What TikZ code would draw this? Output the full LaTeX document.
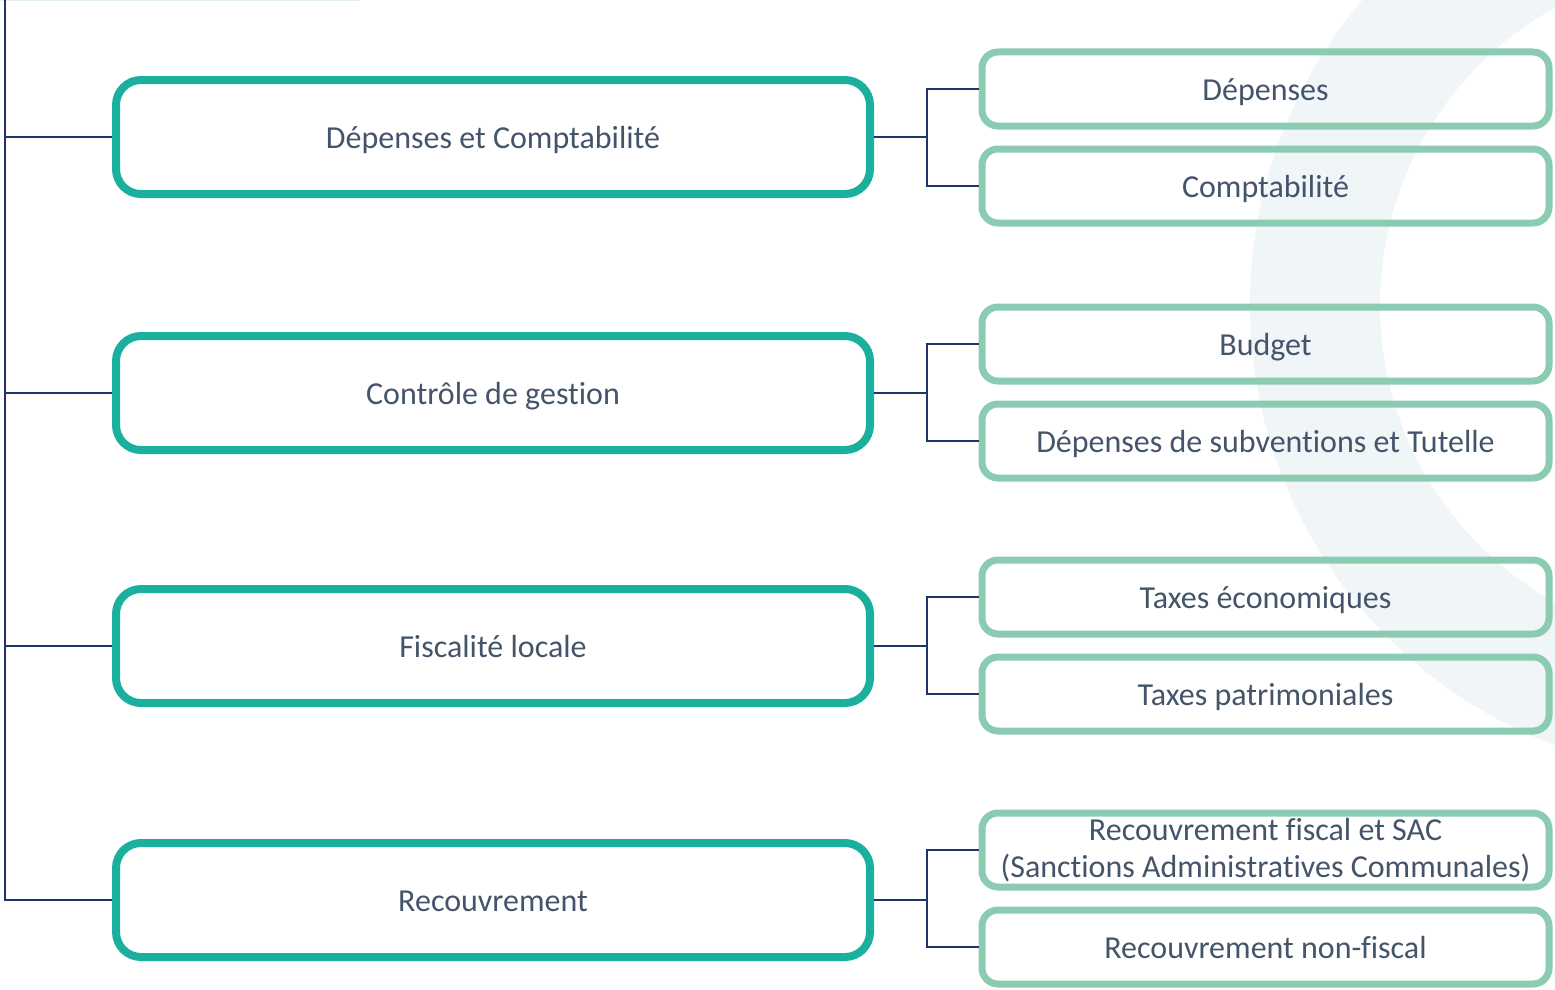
\documentclass[tikz,border=0pt]{standalone}
\usepackage{fontspec}
\setmainfont{Carlito}[Ligatures={NoCommon}]
\usepackage{tikz}
\usetikzlibrary{positioning}
\definecolor{mainteal}{HTML}{1BB09E}
\definecolor{subgreen}{HTML}{8ACBB2}
\definecolor{linknavy}{HTML}{1F3468}
\definecolor{textslate}{HTML}{44546A}
\definecolor{ringgray}{HTML}{F0F5F8}
\definecolor{toplight}{HTML}{E2EEF5}

\begin{document}
\begin{tikzpicture}[x=1pt, y=-1pt,
    mainbox/.style={draw=mainteal, line width=8pt, rounded corners=25pt, minimum width=754pt, minimum height=114pt, inner sep=0pt, text height=26pt, text depth=4pt, text=textslate, font=\fontsize{32}{38}\selectfont},
    subbox/.style={draw=subgreen, line width=7pt, rounded corners=16pt, minimum width=567pt, minimum height=74pt, inner sep=0pt, align=center, text=textslate, font=\fontsize{32}{37}\selectfont},
    oneline/.style={text height=26pt, text depth=4pt},
    link/.style={draw=linknavy, line width=1.6pt}]
        \useasboundingbox (0,0) rectangle (1555,990);
        % background ring
        \begin{scope}
            \clip (0,0) rectangle (1555,990);
            \fill[ringgray, even odd rule] (1720,305) circle (470pt) (1720,305) circle (340pt);
        \end{scope}
        \draw[toplight, line width=3pt] (0,0) -- (360,0);
        \coordinate (trunk) at (5,0);
        % main boxes
        \foreach \y/\n/\t in {137/depcpt/{Dépenses et Comptabilité}, 393/ctrl/{Contrôle de gestion}, 646/fisc/{Fiscalité locale}, 900/recv/{Recouvrement}}
        {
            \node[mainbox] (\n) at (493,\y) {\t};
            \draw[link] (trunk) |- (\n.west);
        }
        % sub boxes
        \node[subbox, oneline] (dep) at (1265.5,89) {Dépenses};
        \node[subbox, oneline] (cpt) at (1265.5,186) {Comptabilité};
        \node[subbox, oneline] (bud) at (1265.5,344) {Budget};
        \node[subbox, oneline] (subv) at (1265.5,441) {Dépenses de subventions et Tutelle};
        \node[subbox, oneline] (taxeco) at (1265.5,597) {Taxes économiques};
        \node[subbox, oneline] (taxpat) at (1265.5,694) {Taxes patrimoniales};
        \node[subbox] (recfis) at (1265.5,850) {Recouvrement fiscal et SAC\\(Sanctions Administratives Communales)};
        \node[subbox, oneline] (recnf) at (1265.5,947) {Recouvrement non-fiscal};
        \foreach \m/\a/\b in {depcpt/dep/cpt, ctrl/bud/subv, fisc/taxeco/taxpat, recv/recfis/recnf}
        {
            \draw[link] (\m.east) -- ++(53,0) coordinate (j\m) |- (\a.west);
            \draw[link] (j\m) |- (\b.west);
        }
    \end{tikzpicture}
\end{document}
